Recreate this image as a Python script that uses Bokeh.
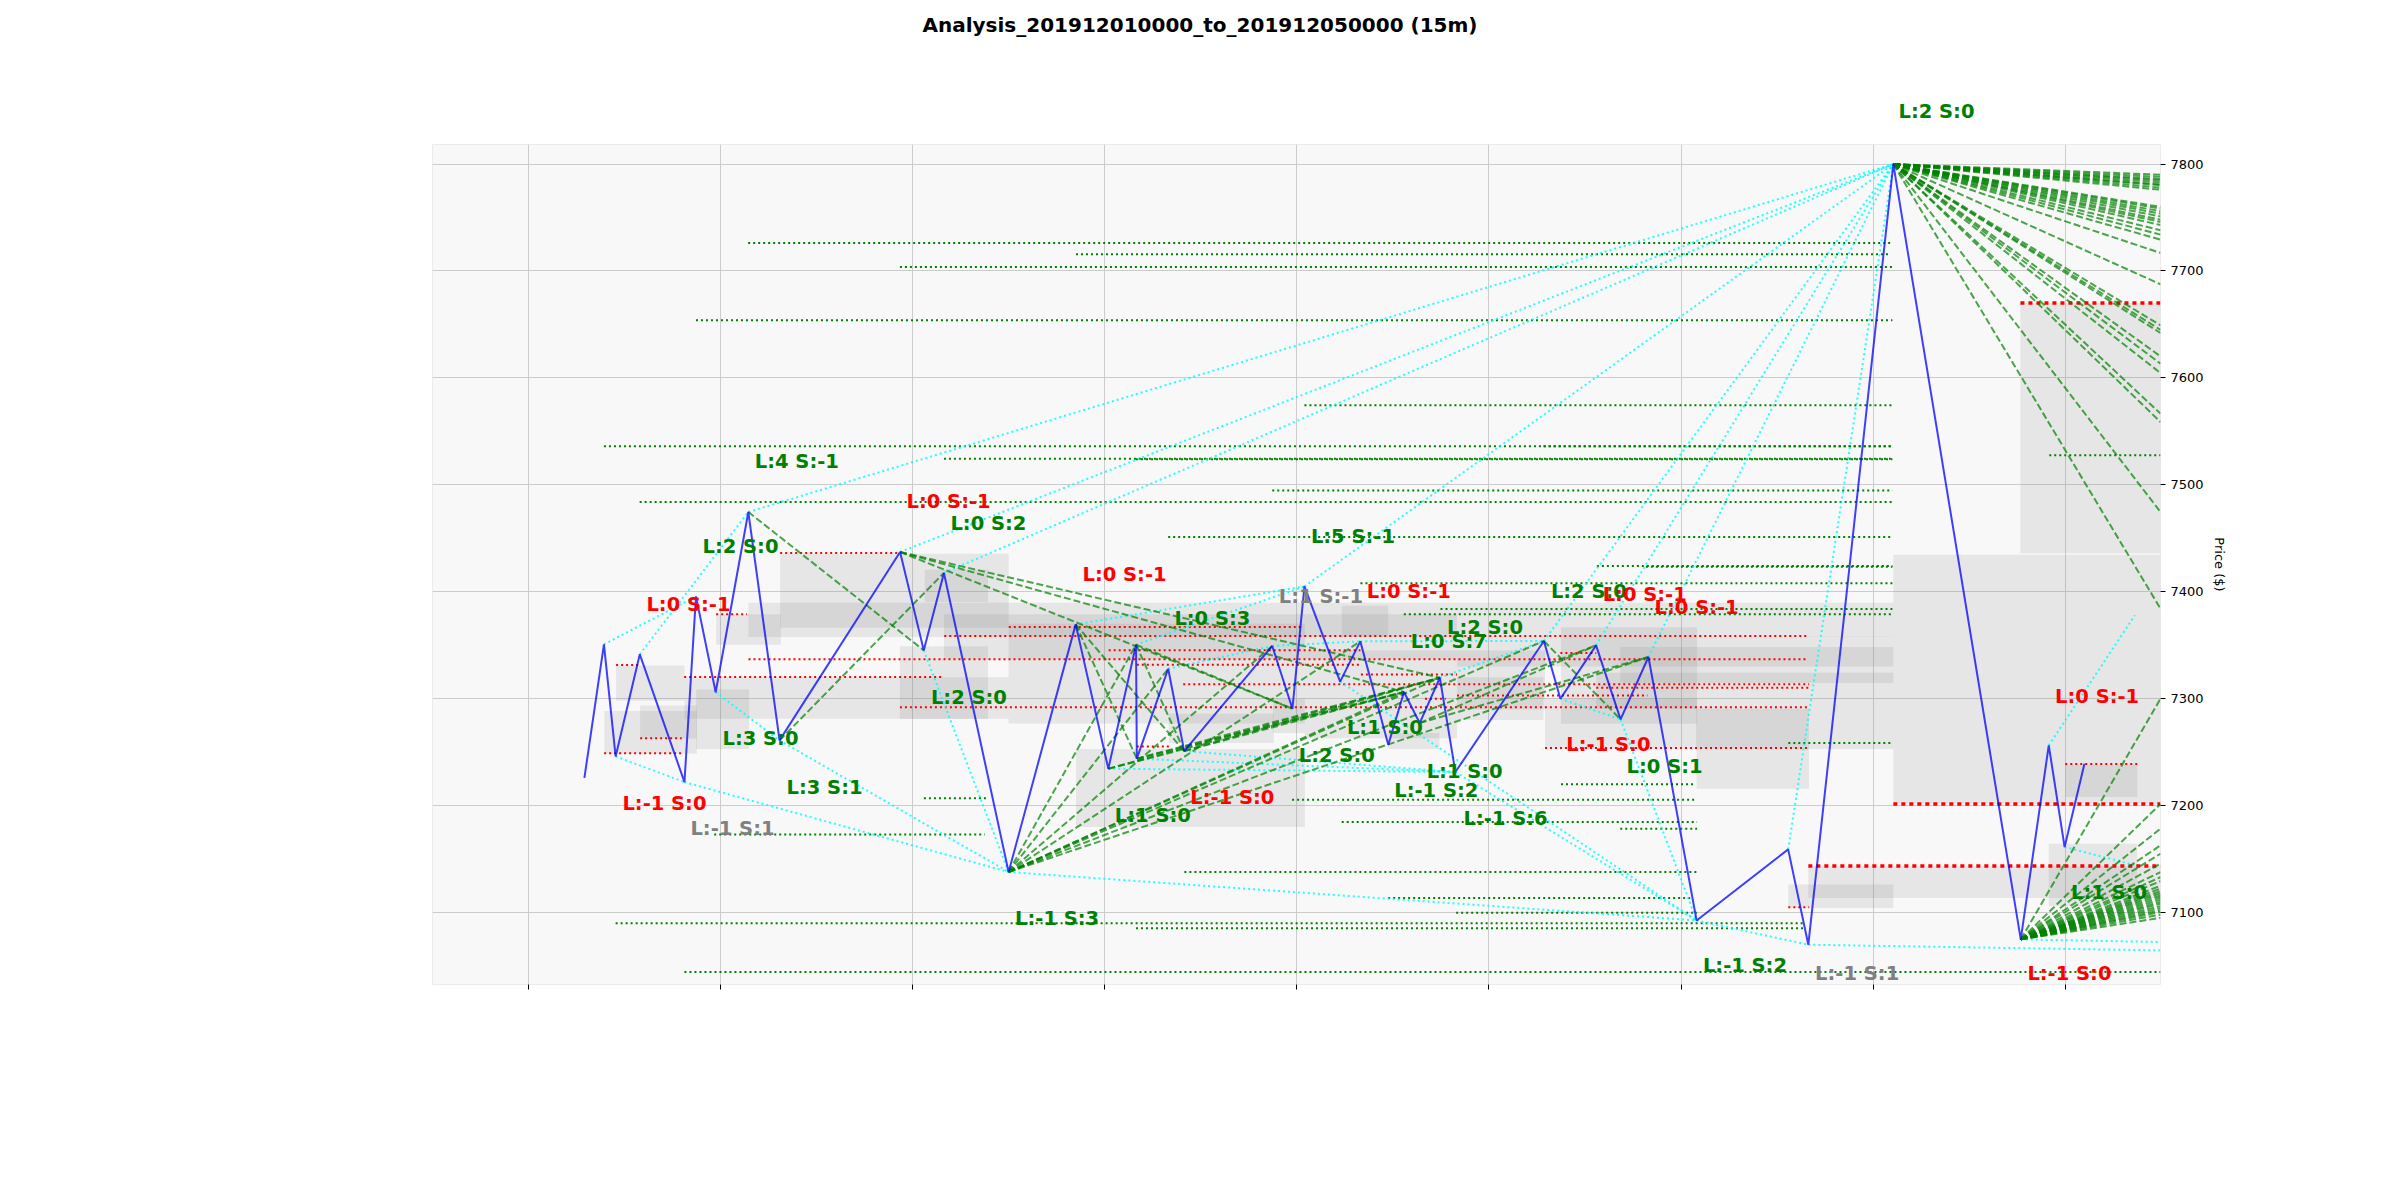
from bokeh.plotting import figure
from bokeh.models import Range1d, FixedTicker, Label, Title
from bokeh.embed import file_html
from bokeh.resources import INLINE

TITLE = "Analysis_201912010000_to_201912050000 (15m)"

# price zig-zag (hours since 2019-12-01 00:00, price)
price_x = [3.49, 4.71, 5.44, 6.95, 9.74, 10.46, 11.69, 13.73, 15.68, 23.21, 24.69, 25.95,
           29.99, 34.18, 36.22, 37.95, 38.0, 39.96, 40.96, 46.46, 47.72, 48.47, 50.7, 51.96,
           53.71, 54.69, 55.67, 56.93, 57.9, 63.43, 64.46, 66.69, 68.22, 69.96, 72.97, 78.69,
           79.95, 85.26, 93.22, 94.97, 95.96, 97.2]
price_y = [7226, 7350.8, 7246, 7341.5, 7222, 7395.7, 7306, 7474.6, 7261, 7437.2, 7345.2, 7417.6,
           7137.9, 7369.5, 7234.5, 7350.5, 7243.9, 7328, 7251, 7349.3, 7290.6, 7405, 7316, 7353.6,
           7257, 7306.2, 7277.2, 7319.6, 7231.4, 7354, 7300, 7349.9, 7280.7, 7339, 7092.6, 7159.1,
           7069.9, 7800, 7074.9, 7256.3, 7161.2, 7239.2]

# gray zones
box_left = [4.74, 5.47, 6.97, 10.47, 11.72, 15.72, 9.74, 13.74, 23.2, 24.75, 29.99, 34.2, 39.99,
            46.5, 48.5, 50.8, 53.7, 58.0, 63.5, 64.5, 68.2, 66.7, 72.97, 72.97, 78.7, 79.95,
            85.26, 93.2, 94.97, 96.0, 48.5, 25.95, 58.0]
box_right = [10.51, 9.74, 10.51, 13.78, 15.76, 29.99, 29.99, 85.26, 28.7, 28.7, 48.5, 48.5, 46.55,
             48.5, 58.0, 53.7, 56.9, 63.4, 73.0, 73.0, 85.26, 85.26, 79.99, 85.26, 85.26, 101.95,
             101.95, 101.95, 100.5, 100.5, 63.5, 58.0, 85.26]
box_bottom = [7248.5, 7298, 7262.6, 7253, 7350.5, 7366.4, 7281.3, 7357.6, 7281, 7390.4, 7276.7,
              7180, 7258.5, 7268, 7263, 7358, 7253, 7280, 7253, 7276.6, 7314.6, 7290.6, 7215.8,
              7253, 7104.2, 7113.5, 7201.5, 7436, 7106, 7208, 7290, 7336.8, 7330]
box_top = [7288.4, 7331, 7293.7, 7308.7, 7378.9, 7435.6, 7320, 7389.8, 7349, 7420.7, 7370,
           7253, 7286, 7300, 7290, 7387, 7268, 7320, 7300, 7366.9, 7348.3, 7324.3, 7290.6,
           7290.6, 7126.3, 7143.5, 7434.7, 7670, 7164.4, 7238.5, 7345, 7378.9, 7358]

# red dotted levels
red_x0 = [5.47, 11.72, 15.72, 13.74, 9.72, 23.2, 25.97, 30.0, 4.72, 6.97, 36.24, 38.0, 40.9,
          52.0, 58.0, 38.0, 63.5, 96.0, 78.7, 64.46, 66.7, 56.0]
red_x1 = [6.97, 13.64, 23.2, 79.8, 25.9, 80.0, 80.0, 48.4, 9.68, 9.57, 51.97, 52.0, 80.0,
          58.0, 69.9, 40.1, 80.0, 100.5, 80.0, 66.7, 80.0, 57.3]
red_y = [7331.5, 7379, 7436.2, 7336.8, 7320.2, 7292.1, 7358.6, 7367, 7249, 7263, 7345.2, 7331.8,
         7313.4, 7322.7, 7303, 7255.4, 7254, 7239, 7105, 7342.7, 7310.3, 7300]
red_thick_x0 = [85.26, 79.95, 93.2]
red_thick_x1 = [101.95, 101.95, 101.95]
red_thick_y = [7201.5, 7143.5, 7670]

# green dotted levels
green_x0 = [13.72, 34.2, 23.2, 10.46, 4.71, 63.4, 25.95, 37.95, 6.94, 48.47, 46.46, 39.96, 66.74,
            69.8, 51.97, 56.97, 54.68, 64.5, 47.7, 50.8, 68.2, 40.97, 53.7, 57.95, 5.44, 37.95,
            9.74, 24.7, 11.6, 78.7, 95.0]
green_x1 = [85.2, 85.0, 85.2, 85.2, 85.2, 85.2, 85.2, 85.2, 85.2, 85.2, 85.2, 85.2, 85.2,
            85.2, 85.2, 85.2, 85.2, 72.8, 73.0, 73.0, 73.0, 73.0, 72.7, 73.0, 79.7, 79.7,
            101.95, 28.7, 28.5, 85.1, 101.95]
green_y = [7726.2, 7715.6, 7703.8, 7653.9, 7536, 7536, 7524.5, 7524, 7484, 7574.4, 7494.7, 7451.2,
           7424, 7423.5, 7408, 7383.8, 7379, 7220, 7205.6, 7184.6, 7178.4, 7137.8, 7113.5, 7099.8,
           7090, 7085.4, 7044.3, 7207, 7173, 7258.5, 7527.6]

# cyan trend links between pivots (indices into price arrays)
cyan_from = [1, 3, 2, 4, 6, 8, 10, 7, 9, 11, 21, 29, 31, 33, 35, 12, 34, 13, 15, 17, 19, 23, 27,
             14, 16, 18, 28, 22, 30, 32]
cyan_to = [5, 7, 4, 12, 8, 12, 12, 37, 37, 37, 37, 37, 37, 37, 37, 34, 36, 21, 21, 19, 23, 29, 29,
           28, 28, 28, 34, 34, 32, 34]
cyan_ext_from = [36, 38, 39, 40]
cyan_ext_x = [101.95, 101.95, 100.35, 100.46]
cyan_ext_y = [7064.6, 7072.4, 7378, 7144]

# green dashed links between pivots
dash_from = [7, 8, 9, 9, 9, 12, 12, 12, 12, 12, 12, 12, 12, 12, 13, 13, 15, 15, 14, 14, 16, 16,
             18, 18, 29, 26, 26]
dash_to = [10, 11, 27, 25, 20, 15, 17, 19, 23, 25, 27, 29, 31, 33, 16, 18, 18, 20, 27, 25, 27, 25,
           27, 25, 32, 33, 31]

# projection fans (from the 7800 top and the last low) to the right edge
fan_top_from = 37
fan_top_end = [7790, 7788, 7786, 7784.8, 7783, 7781, 7780.2, 7778, 7776, 7760, 7758.4, 7756,
               7753.7, 7751, 7748, 7745.9, 7743, 7738.1, 7734, 7729.3, 7716.9, 7687.6, 7649.2,
               7645, 7642, 7620.2, 7613.4, 7604.6, 7566.6, 7558.8, 7474.6, 7384.2]
fan_low_from = 38
fan_low_end = [7300, 7201.5, 7178.4, 7162.8, 7155, 7145.6, 7137.8, 7133, 7129.4, 7125, 7122.3,
               7120, 7118, 7116, 7114, 7112, 7110, 7108.2, 7106, 7104, 7102, 7100.4, 7098, 7095]
fan_end_x = 101.95

# annotations inside the plot area (x = centre, y = baseline)
lab_text = ["L:4 S:-1", "L:0 S:-1", "L:0 S:2", "L:2 S:0", "L:0 S:-1", "L:3 S:0", "L:3 S:1",
            "L:2 S:0", "L:-1 S:0", "L:-1 S:1", "L:-1 S:3", "L:0 S:-1", "L:5 S:-1", "L:1 S:-1",
            "L:0 S:-1", "L:0 S:3", "L:2 S:0", "L:0 S:7", "L:1 S:0", "L:2 S:0", "L:1 S:0",
            "L:-1 S:2", "L:-1 S:0", "L:1 S:0", "L:-1 S:6", "L:2 S:0", "L:0 S:-1", "L:0 S:-1",
            "L:-1 S:0", "L:0 S:1", "L:-1 S:2", "L:-1 S:1", "L:-1 S:0", "L:0 S:-1", "L:1 S:0"]
lab_x = [16.76, 26.24, 28.73, 13.24, 9.99, 14.49, 18.49, 27.51, 8.49, 12.74, 33.02, 37.23, 51.5,
         49.5, 54.99, 42.72, 59.75, 57.49, 53.5, 50.49, 58.48, 56.71, 43.97, 39.0, 61.04, 66.24,
         69.73, 72.97, 67.46, 70.97, 75.99, 83.0, 96.26, 97.99, 98.73]
lab_y = [7521.7, 7484.8, 7464.1, 7442.2, 7388.4, 7262.4, 7216.7, 7301.2, 7202.2, 7178.8, 7094.6,
         7416.2, 7452.1, 7395.9, 7399.8, 7374.9, 7366.6, 7353.1, 7272.6, 7247.1, 7232.3, 7213.8,
         7207.7, 7190.4, 7188.1, 7400.1, 7397.0, 7385.6, 7256.7, 7236.4, 7050.2, 7043.0, 7043.0,
         7301.9, 7118.4]
lab_color = ["green", "red", "green", "green", "red", "green", "green", "green", "red", "gray",
             "green", "red", "green", "gray", "red", "green", "green", "green", "green", "green",
             "green", "green", "red", "green", "green", "green", "red", "red", "red", "green",
             "green", "gray", "red", "red", "green"]
# annotation above the plot area, over the 7800 top
top_lab_text = "L:2 S:0"

x_ticks = [0, 12, 24, 36, 48, 60, 72, 84, 96]
y_ticks = [7100, 7200, 7300, 7400, 7500, 7600, 7700, 7800]

COLORS = {"green": "#008000", "red": "#ff0000", "gray": "#808080"}
FONT = "DejaVu Sans"

p = figure(width=2400, height=1200, output_backend="svg", toolbar_location=None,
           x_range=Range1d(-6.0, 101.95), y_range=Range1d(7032.7, 7818.3),
           y_axis_location="right", min_border_left=432, min_border_right=240,
           min_border_top=144, min_border_bottom=216, title=None)
p.background_fill_color = "#f8f8f8"
p.border_fill_color = "white"
p.outline_line_color = "#ebebeb"

p.xaxis.ticker = FixedTicker(ticks=x_ticks)
p.yaxis.ticker = FixedTicker(ticks=y_ticks)
p.xgrid.ticker = FixedTicker(ticks=x_ticks)
p.ygrid.ticker = FixedTicker(ticks=y_ticks)
for g in (p.xgrid, p.ygrid):
    g.grid_line_color = "#cccccc"
    g.grid_line_width = 1
p.xaxis.major_label_overrides = {t: "" for t in x_ticks}
for ax in (p.xaxis, p.yaxis):
    ax.axis_line_color = None
    ax.major_tick_line_color = "#000000"
    ax.major_tick_out = 5
    ax.major_tick_in = 0
    ax.minor_tick_line_color = None
    ax.major_label_text_font = FONT
    ax.major_label_text_font_size = "13px"
    ax.major_label_text_color = "#000000"
p.yaxis.axis_label = "Price ($)"
p.yaxis.axis_label_text_font = FONT
p.yaxis.axis_label_text_font_size = "13px"
p.yaxis.axis_label_text_font_style = "normal"
p.yaxis.axis_label_text_color = "#000000"
p.yaxis.axis_label_standoff = 5

# zones
p.quad(left=box_left, right=box_right, bottom=box_bottom, top=box_top,
       fill_color="#808080", fill_alpha=0.15, line_color=None)

# levels
p.segment(x0=green_x0, y0=green_y, x1=green_x1, y1=green_y, line_color="#008000",
          line_width=2, line_dash="2 3")
p.segment(x0=red_x0, y0=red_y, x1=red_x1, y1=red_y, line_color="#ff0000",
          line_width=2, line_dash="2 3")
p.segment(x0=red_thick_x0, y0=red_thick_y, x1=red_thick_x1, y1=red_thick_y,
          line_color="#ff0000", line_width=3.5, line_dash="4 4")

# cyan links
cx0 = [price_x[i] for i in cyan_from] + [price_x[i] for i in cyan_ext_from]
cy0 = [price_y[i] for i in cyan_from] + [price_y[i] for i in cyan_ext_from]
cx1 = [price_x[i] for i in cyan_to] + cyan_ext_x
cy1 = [price_y[i] for i in cyan_to] + cyan_ext_y
p.segment(x0=cx0, y0=cy0, x1=cx1, y1=cy1, line_color="#00ffff", line_alpha=0.85,
          line_width=2, line_dash="2 3")

# dashed green links and fans
dx0 = [price_x[i] for i in dash_from]
dy0 = [price_y[i] for i in dash_from]
dx1 = [price_x[i] for i in dash_to]
dy1 = [price_y[i] for i in dash_to]
dx0 += [price_x[fan_top_from]] * len(fan_top_end) + [price_x[fan_low_from]] * len(fan_low_end)
dy0 += [price_y[fan_top_from]] * len(fan_top_end) + [price_y[fan_low_from]] * len(fan_low_end)
dx1 += [fan_end_x] * (len(fan_top_end) + len(fan_low_end))
dy1 += fan_top_end + fan_low_end
p.segment(x0=dx0, y0=dy0, x1=dx1, y1=dy1, line_color="#008000", line_alpha=0.7,
          line_width=2, line_dash="7 3")

# price path
p.line(price_x, price_y, line_color="#0000ff", line_alpha=0.75, line_width=2)

for t, x, y, c in zip(lab_text, lab_x, lab_y, lab_color):
    p.add_layout(Label(x=x, y=y, text=t, text_color=COLORS[c], text_font=FONT,
                       text_font_size="19.5px", text_font_style="bold",
                       text_align="center", text_baseline="alphabetic"))

# texts above the plot area (stacked from the frame outwards)
p.add_layout(Title(text=top_lab_text, align="left", offset=1466, standoff=39,
                   vertical_align="top", text_color="#008000", text_font=FONT,
                   text_font_size="19.5px", text_font_style="bold"), "above")
p.add_layout(Title(text=" ", align="left", standoff=30, text_font_size="1px"), "above")
p.add_layout(Title(text=TITLE, align="left", offset=490, standoff=18,
                   vertical_align="top", text_color="#000000", text_font=FONT,
                   text_font_size="20px", text_font_style="bold"), "above")

open("out.html", "w").write(file_html(p, INLINE))
